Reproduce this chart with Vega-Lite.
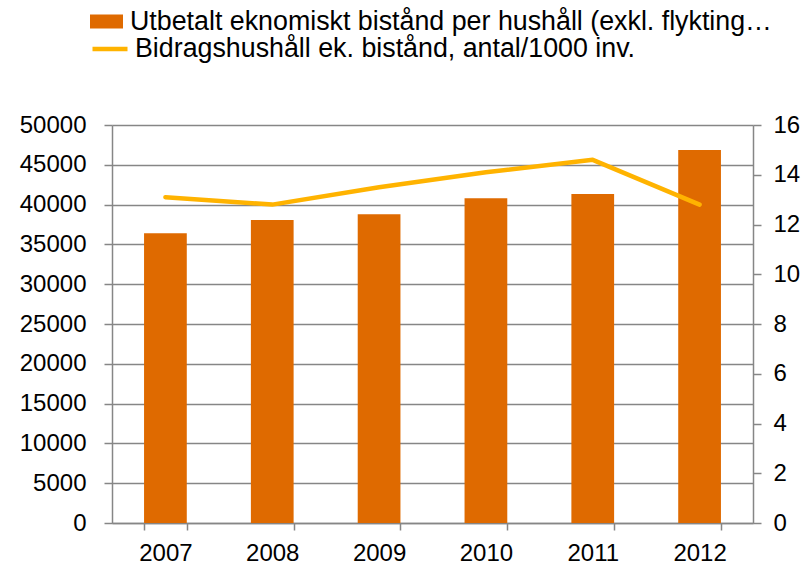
{
  "$schema": "https://vega.github.io/schema/vega-lite/v6.json",
  "autosize": {"type": "none"},
  "padding": {"left": 112, "top": 125, "right": 54, "bottom": 42},
  "width": 641,
  "height": 398,
  "background": "white",
  "config": {
    "font": "Liberation Sans",
    "view": {"stroke": null},
    "axis": {"labelFont": "Liberation Sans", "labelFontSize": 24, "labelColor": "#000000", "domainColor": "#868686", "tickColor": "#868686", "gridColor": "#868686", "domainWidth": 1.5, "tickWidth": 1.5, "gridWidth": 1.5, "title": null},
    "legend": {"labelFont": "Liberation Sans", "labelFontSize": 26.8, "labelColor": "#000000", "padding": 0, "labelLimit": 0}
  },
  "data": {
    "values": [
      {"year": "2007", "belopp": 36400, "antal": 13.1},
      {"year": "2008", "belopp": 38050, "antal": 12.8},
      {"year": "2009", "belopp": 38780, "antal": 13.5},
      {"year": "2010", "belopp": 40800, "antal": 14.1},
      {"year": "2011", "belopp": 41330, "antal": 14.6},
      {"year": "2012", "belopp": 46850, "antal": 12.8}
    ]
  },
  "encoding": {
    "x": {
      "field": "year", "type": "ordinal",
      "scale": {"paddingInner": 0.6, "paddingOuter": 0.3},
      "axis": {"labelAngle": 0, "tickBand": "extent", "tickSize": 7, "labelPadding": 11, "domainWidth": 1.5}
    }
  },
  "layer": [
    {
      "mark": {"type": "bar"},
      "encoding": {
        "y": {
          "field": "belopp", "type": "quantitative",
          "scale": {"domain": [0, 50000], "nice": false},
          "axis": {"values": [0,5000,10000,15000,20000,25000,30000,35000,40000,45000,50000], "format": "d", "tickSize": 8, "labelPadding": 18, "grid": true}
        },
        "fill": {
          "datum": "Utbetalt eknomiskt bistånd per hushåll (exkl. flykting…",
          "scale": {"range": ["#DF6A00"]},
          "legend": {"orient": "none", "legendX": -22, "legendY": -120, "title": null, "symbolType": "M-1,-0.42H1V0.42H-1Z", "symbolSize": 1089, "symbolStrokeWidth": 0, "symbolOpacity": 1, "labelOffset": 7}
        }
      }
    },
    {
      "mark": {"type": "line", "strokeWidth": 4.5, "strokeCap": "round", "strokeJoin": "round"},
      "encoding": {
        "y": {
          "field": "antal", "type": "quantitative",
          "scale": {"domain": [0, 16], "nice": false},
          "axis": {"orient": "right", "values": [0,2,4,6,8,10,12,14,16], "tickSize": 8, "labelPadding": 12, "grid": false}
        },
        "stroke": {
          "datum": "Bidragshushåll ek. bistånd, antal/1000 inv.",
          "scale": {"range": ["#FFB300"]},
          "legend": {"orient": "none", "legendX": -22, "legendY": -96, "title": null, "symbolType": "stroke", "symbolSize": 1225, "symbolStrokeWidth": 4.5, "labelOffset": 5}
        }
      }
    }
  ],
  "resolve": {"scale": {"y": "independent", "fill": "independent", "stroke": "independent"}}
}
